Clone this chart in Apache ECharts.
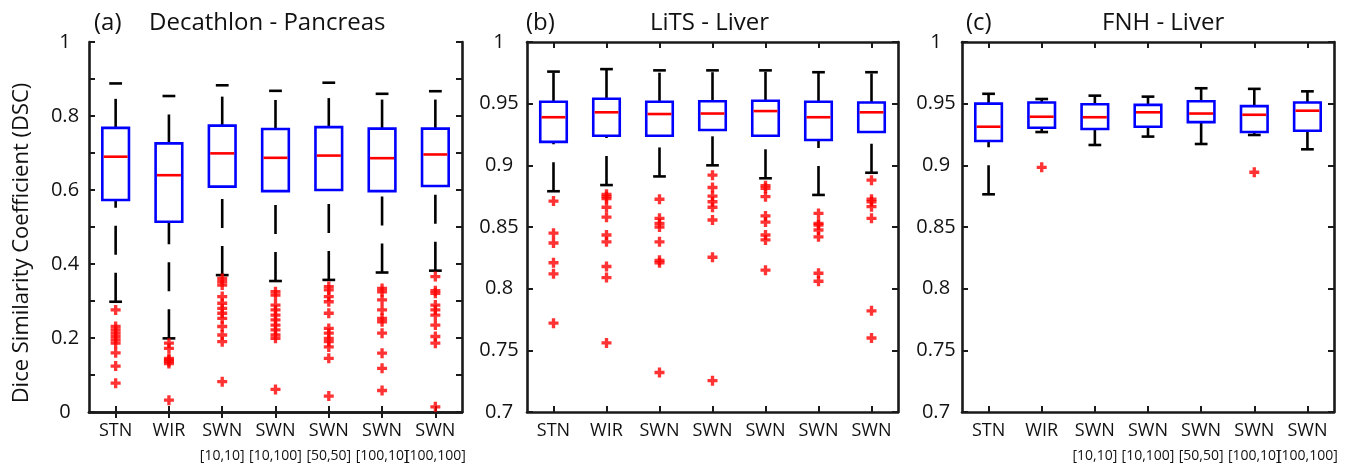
<!DOCTYPE html>
<html>
<head>
<meta charset="utf-8">
<script src="https://cdn.jsdelivr.net/npm/echarts@6/dist/echarts.min.js"></script>
<style>
  html, body { margin: 0; padding: 0; background: #fff; }
  #main { width: 1354px; height: 466px; }
</style>
</head>
<body>
<div id="main"></div>
<script>
// categories shared by the three panels
var methods = ['STN', 'WIR', 'SWN', 'SWN', 'SWN', 'SWN', 'SWN'];
var methodParams = ['', '', '[10,10]', '[10,100]', '[50,50]', '[100,10]', '[100,100]'];

// box stats per method: [lower whisker, q1, median, q3, upper whisker]
var pancreasBox = [
  [0.298, 0.573, 0.690, 0.768, 0.888],
  [0.199, 0.514, 0.640, 0.726, 0.854],
  [0.370, 0.609, 0.699, 0.774, 0.883],
  [0.354, 0.597, 0.687, 0.765, 0.868],
  [0.357, 0.600, 0.693, 0.770, 0.890],
  [0.377, 0.597, 0.686, 0.766, 0.860],
  [0.382, 0.611, 0.696, 0.766, 0.867]
];
var pancreasOutliers = [
  [0.276, 0.231, 0.222, 0.213, 0.204, 0.195, 0.186, 0.160, 0.124, 0.078],
  [0.186, 0.172, 0.145, 0.141, 0.136, 0.131, 0.032],
  [0.361, 0.352, 0.343, 0.312, 0.294, 0.280, 0.267, 0.253, 0.231, 0.208, 0.190, 0.082],
  [0.325, 0.316, 0.289, 0.276, 0.262, 0.249, 0.235, 0.222, 0.208, 0.199, 0.061],
  [0.339, 0.330, 0.312, 0.298, 0.267, 0.226, 0.213, 0.199, 0.190, 0.176, 0.145, 0.043],
  [0.334, 0.325, 0.303, 0.276, 0.253, 0.244, 0.213, 0.159, 0.118, 0.058],
  [0.366, 0.328, 0.321, 0.289, 0.276, 0.262, 0.235, 0.204, 0.186, 0.014]
];

var litsBox = [
  [0.879, 0.919, 0.939, 0.9516, 0.976],
  [0.884, 0.924, 0.943, 0.954, 0.978],
  [0.891, 0.924, 0.9416, 0.9516, 0.977],
  [0.900, 0.9286, 0.942, 0.952, 0.977],
  [0.8895, 0.924, 0.944, 0.9524, 0.977],
  [0.876, 0.9205, 0.939, 0.9516, 0.9755],
  [0.894, 0.927, 0.943, 0.951, 0.9755]
];
var litsOutliers = [
  [0.871, 0.845, 0.837, 0.821, 0.812, 0.772],
  [0.8765, 0.8746, 0.873, 0.866, 0.858, 0.8435, 0.838, 0.818, 0.809, 0.756],
  [0.8725, 0.857, 0.853, 0.850, 0.838, 0.823, 0.821, 0.732],
  [0.892, 0.882, 0.875, 0.8705, 0.866, 0.8557, 0.8255, 0.7254],
  [0.8835, 0.8814, 0.8746, 0.859, 0.854, 0.8435, 0.8395, 0.815],
  [0.861, 0.853, 0.8516, 0.8476, 0.842, 0.8125, 0.806],
  [0.888, 0.8725, 0.8705, 0.8665, 0.857, 0.782, 0.760]
];

var fnhBox = [
  [0.8765, 0.9197, 0.9313, 0.950, 0.958],
  [0.927, 0.9305, 0.9394, 0.951, 0.9538],
  [0.9165, 0.9295, 0.939, 0.9495, 0.9565],
  [0.9233, 0.9313, 0.943, 0.949, 0.9557],
  [0.9173, 0.935, 0.942, 0.952, 0.9625],
  [0.9246, 0.927, 0.941, 0.948, 0.962],
  [0.913, 0.928, 0.9443, 0.951, 0.960]
];
var fnhOutliers = [[], [0.8984], [], [], [], [0.8944], []];

var panels = [
  { tag: '(a)', title: 'Decathlon - Pancreas', box: pancreasBox, out: pancreasOutliers,
    min: 0, max: 1, interval: 0.1, sub: true, left: 89, width: 373, tagX: 89, titleX: 144, labelMargin: 24 },
  { tag: '(b)', title: 'LiTS - Liver', box: litsBox, out: litsOutliers,
    min: 0.7, max: 1, interval: 0.05, sub: false, left: 527, width: 371, tagX: 521, titleX: 645, labelMargin: 28 },
  { tag: '(c)', title: 'FNH - Liver', box: fnhBox, out: fnhOutliers,
    min: 0.7, max: 1, interval: 0.05, sub: true, left: 962, width: 372, tagX: 961, titleX: 1097, labelMargin: 26 }
];

var FONT = '"Open Sans", "Noto Sans", sans-serif';
var AXIS_COLOR = '#1a1a1a';

function renderBox(params, api) {
  var i = api.value(0);
  var pLo = api.coord([i, api.value(1)]);
  var pQ1 = api.coord([i, api.value(2)]);
  var pMed = api.coord([i, api.value(3)]);
  var pQ3 = api.coord([i, api.value(4)]);
  var pHi = api.coord([i, api.value(5)]);
  var bw = api.size([1, 0])[0] * 0.5;
  var cw = bw * 0.48;
  var x = pLo[0];
  var whisker = { stroke: '#000', lineWidth: 2.6, lineDash: [29, 18] };
  var solid = { stroke: '#000', lineWidth: 2.6 };
  return {
    type: 'group',
    children: [
      // whiskers are drawn bottom-up so the dash pattern starts low
      { type: 'line', shape: { x1: x, y1: pLo[1], x2: x, y2: pQ1[1] }, style: whisker },
      { type: 'line', shape: { x1: x, y1: pQ3[1], x2: x, y2: pHi[1] }, style: whisker },
      { type: 'line', shape: { x1: x - cw / 2, y1: pLo[1], x2: x + cw / 2, y2: pLo[1] }, style: solid },
      { type: 'line', shape: { x1: x - cw / 2, y1: pHi[1], x2: x + cw / 2, y2: pHi[1] }, style: solid },
      { type: 'rect', shape: { x: x - bw / 2, y: pQ3[1], width: bw, height: pQ1[1] - pQ3[1] },
        style: { fill: 'none', stroke: '#0000ff', lineWidth: 2.6 } },
      { type: 'line', shape: { x1: x - bw / 2 + 1.3, y1: pMed[1], x2: x + bw / 2 - 1.3, y2: pMed[1] },
        style: { stroke: '#ff0000', lineWidth: 2.6 } }
    ]
  };
}

var option = {
  animation: false,
  backgroundColor: '#fff',
  textStyle: { fontFamily: FONT },
  title: [],
  grid: [],
  xAxis: [],
  yAxis: [],
  series: []
};

panels.forEach(function (p, k) {
  option.title.push({ text: p.tag, left: p.tagX, top: 6,
    textStyle: { fontFamily: FONT, fontSize: 24, fontWeight: 'normal', color: '#111' } });
  option.title.push({ text: p.title, left: p.titleX, top: 6,
    textStyle: { fontFamily: FONT, fontSize: 24, fontWeight: 'normal', color: '#111' } });

  option.grid.push({ left: p.left, top: 42, width: p.width, height: 370 });

  var lineStyle = { color: AXIS_COLOR, width: 2.6 };
  var tick = { show: true, inside: true, length: 6, alignWithLabel: true, lineStyle: { color: AXIS_COLOR, width: 2 } };

  option.xAxis.push({
    type: 'category', gridIndex: k, position: 'bottom', data: methods,
    axisLine: { lineStyle: lineStyle }, axisTick: tick, splitLine: { show: false },
    axisLabel: {
      margin: 8, interval: 0,
      formatter: function (v, idx) {
        var s = '{m|' + v + '}';
        if (p.sub && methodParams[idx]) s += '\n{s|' + methodParams[idx] + '}';
        return s;
      },
      rich: {
        m: { fontFamily: FONT, fontSize: 18, color: '#111', lineHeight: 22 },
        s: { fontFamily: FONT, fontSize: 14, color: '#111', lineHeight: 28 }
      }
    }
  });
  option.xAxis.push({
    type: 'category', gridIndex: k, position: 'top', data: methods,
    axisLine: { lineStyle: lineStyle }, axisTick: tick, axisLabel: { show: false }, splitLine: { show: false }
  });

  var yBase = {
    type: 'value', gridIndex: k, min: p.min, max: p.max, interval: p.interval,
    axisLine: { show: true, lineStyle: lineStyle },
    axisTick: { show: true, inside: true, length: 6, lineStyle: { color: AXIS_COLOR, width: 2 } },
    splitLine: { show: false }
  };
  var yLeft = Object.assign({}, yBase, {
    position: 'left',
    axisLabel: {
      margin: p.labelMargin, align: 'center', fontFamily: FONT, fontSize: 20, color: '#111',
      formatter: function (v) {
        if (p.interval === 0.1 && Math.round(v * 10) % 2 !== 0) return '';
        return String(+v.toFixed(2));
      }
    }
  });
  if (k === 0) {
    yLeft.name = 'Dice Similarity Coefficient (DSC)';
    yLeft.nameLocation = 'middle';
    yLeft.nameGap = 56;
    yLeft.nameTextStyle = { fontFamily: FONT, fontSize: 22, color: '#111', padding: [0, 32, 0, 0] };
  }
  option.yAxis.push(yLeft);
  option.yAxis.push(Object.assign({}, yBase, { position: 'right', axisLabel: { show: false } }));

  option.series.push({
    type: 'custom',
    xAxisIndex: 2 * k, yAxisIndex: 2 * k,
    renderItem: renderBox,
    encode: { x: 0, y: [1, 2, 3, 4, 5] },
    data: p.box.map(function (b, i) { return [i].concat(b); }),
    z: 2
  });
  var pts = [];
  p.out.forEach(function (arr, i) {
    arr.forEach(function (v) { pts.push([i, v]); });
  });
  option.series.push({
    type: 'scatter',
    xAxisIndex: 2 * k, yAxisIndex: 2 * k,
    symbol: 'path://M3,0H6V3H9V6H6V9H3V6H0V3H3Z',
    symbolSize: 10,
    itemStyle: { color: '#ff0000' },
    data: pts,
    z: 3
  });
});

var myChart = echarts.init(document.getElementById('main'), null, { renderer: 'canvas' });
myChart.setOption(option);
</script>
</body>
</html>
